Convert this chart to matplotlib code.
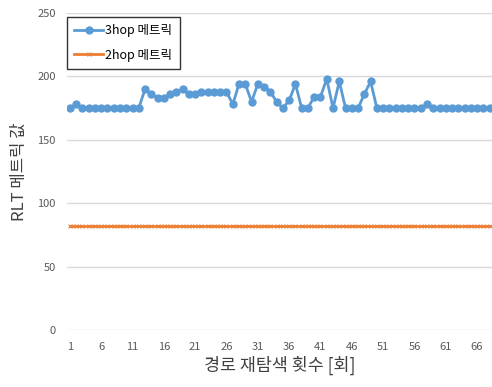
import numpy as np
import matplotlib
matplotlib.use('Agg')
import matplotlib.pyplot as plt

plt.rcParams['font.family'] = ['Noto Sans CJK KR', 'DejaVu Sans']

# 3hop metric per re-search count (1..68)
hop3 = [175, 178, 175, 175, 175, 175, 175, 175, 175, 175,
        175, 175, 190, 186, 183, 183, 186, 188, 190, 186,
        186, 188, 188, 188, 188, 188, 178, 194, 194, 180,
        194, 192, 188, 180, 175, 181, 194, 175, 175, 184,
        184, 198, 175, 196, 175, 175, 175, 186, 196, 175,
        175, 175, 175, 175, 175, 175, 175, 178, 175, 175,
        175, 175, 175, 175, 175, 175, 175, 175]
hop2 = [82] * 68
runs = np.arange(1, len(hop3) + 1)
xticks = list(range(1, 67, 5))
yticks = [0, 50, 100, 150, 200, 250]

fig = plt.figure(figsize=(4.92, 3.87), dpi=100)
ax = fig.add_axes([0.1356, 0.1473, 0.866, 0.8191])

ax.plot(runs, hop3, color='#5B9BD5', lw=2, marker='o', ms=5, label='3hop 메트릭', zorder=3)
ax.plot(runs, hop2, color='#ED7D31', lw=2, marker='x', ms=3.5, mew=0.7, label='2hop 메트릭', zorder=3)

ax.set_xlim(0.5, 68.5)
ax.set_ylim(0, 250)
ax.set_xticks(xticks)
ax.set_yticks(yticks)
ax.grid(axis='y', color='#D9D9D9', lw=1)
ax.set_axisbelow(True)
for s in ax.spines.values():
    s.set_visible(False)
ax.tick_params(length=0, colors='#595959', labelsize=8)
ax.tick_params(axis='x', pad=9)
ax.tick_params(axis='y', pad=8)

ax.set_xlabel('경로 재탐색 횟수 [회]', fontsize=12.5, color='#404040', labelpad=2)
ax.set_ylabel('RLT 메트릭 값', fontsize=12, color='#404040', labelpad=7)

leg = ax.legend(loc='upper left', bbox_to_anchor=(0.0, 0.988), borderaxespad=0,
                fontsize=9, frameon=True, fancybox=False, edgecolor='black',
                borderpad=0.6, handlelength=2.3, labelspacing=0.9, handletextpad=0.2)
leg.get_frame().set_linewidth(1)

fig.savefig('out.png', dpi=100)
